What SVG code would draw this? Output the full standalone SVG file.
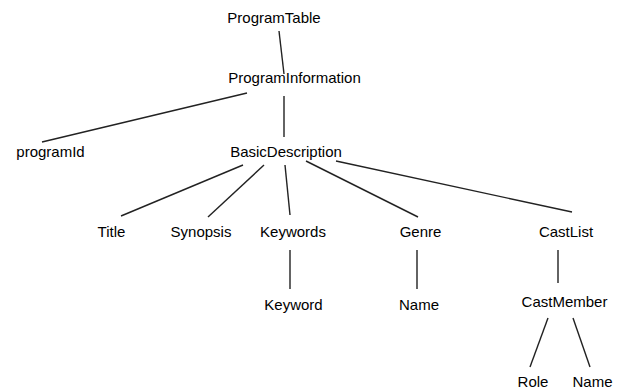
<svg xmlns="http://www.w3.org/2000/svg" width="626" height="392" viewBox="0 0 626 392">
<style>
text{font-family:"Liberation Sans",Arial,sans-serif;font-size:15px;fill:#000;text-anchor:middle}
line{stroke:#222;stroke-width:1.4}
</style>
<rect width="626" height="392" fill="#fff"/>
<g id="connectors">
<line x1="279" y1="31" x2="284" y2="74"/>
<line x1="247" y1="93" x2="42" y2="142"/>
<line x1="284" y1="96" x2="284" y2="137"/>
<line x1="243" y1="165" x2="121" y2="216"/>
<line x1="264" y1="165" x2="208" y2="217"/>
<line x1="285" y1="165" x2="290" y2="215"/>
<line x1="306" y1="161" x2="418" y2="217"/>
<line x1="336" y1="161" x2="572" y2="212"/>
<line x1="290" y1="250" x2="290" y2="289"/>
<line x1="417" y1="250" x2="417" y2="289"/>
<line x1="558" y1="250" x2="558" y2="283"/>
<line x1="548" y1="318" x2="530" y2="367"/>
<line x1="573" y1="318" x2="590" y2="367"/>
</g>
<g id="ProgramTable"><text x="274" y="23">ProgramTable</text></g>
<g id="ProgramInformation"><text x="294.5" y="83">ProgramInformation</text></g>
<g id="programId"><text x="50.5" y="157">programId</text></g>
<g id="BasicDescription"><text x="286" y="157">BasicDescription</text></g>
<g id="Title"><text x="111.5" y="237">Title</text></g>
<g id="Synopsis"><text x="201" y="237">Synopsis</text></g>
<g id="Keywords"><text x="293" y="237">Keywords</text></g>
<g id="Genre"><text x="420.5" y="237">Genre</text></g>
<g id="CastList"><text x="566" y="237">CastList</text></g>
<g id="Keyword"><text x="293.5" y="310">Keyword</text></g>
<g id="GenreName"><text x="419" y="310">Name</text></g>
<g id="CastMember"><text x="564.5" y="307">CastMember</text></g>
<g id="Role"><text x="533" y="387">Role</text></g>
<g id="CastName"><text x="592.5" y="387">Name</text></g>
</svg>
